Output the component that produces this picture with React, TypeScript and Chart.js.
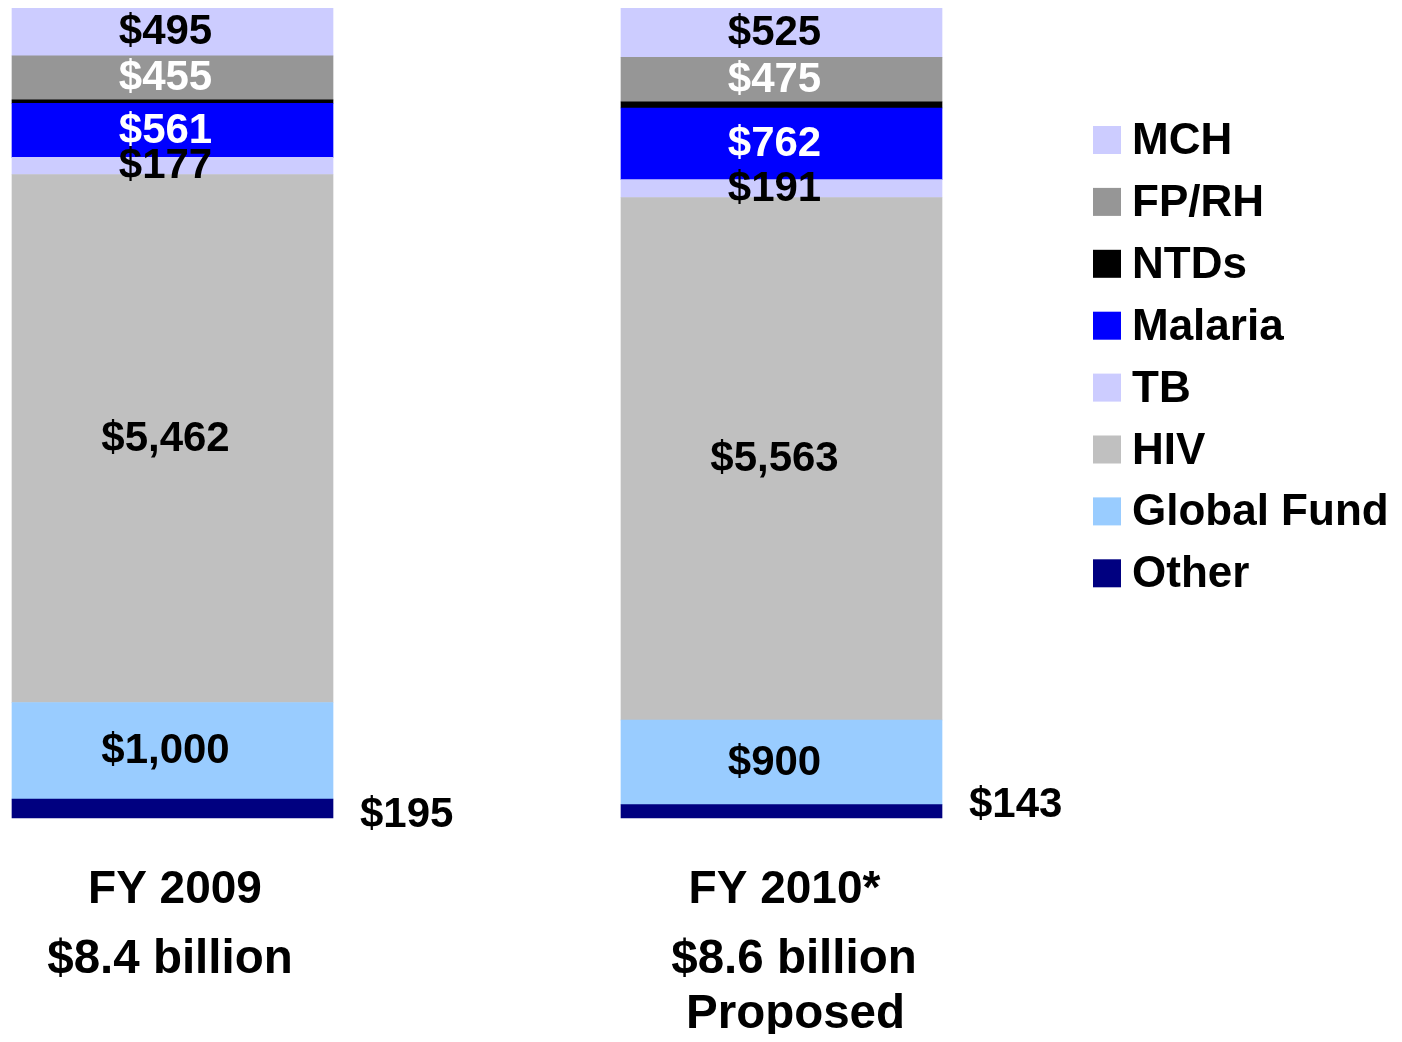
import React, { useEffect, useRef } from 'react';
import { Chart, registerables } from 'chart.js';

Chart.register(...registerables);

// ---- data ----
const categories = ['FY 2009', 'FY 2010*'];
const totalLabels = ['$8.4 billion', '$8.6 billion'];
const noteLabels = ['', 'Proposed'];

const otherValues = [195, 143];
const globalFundValues = [1000, 900];
const hivValues = [5462, 5563];
const tbValues = [177, 191];
const malariaValues = [561, 762];
const ntdValues = [35, 65];
const fprhValues = [455, 475];
const mchValues = [495, 525];

// stack order bottom -> top
const seriesNames = ['Other', 'Global Fund', 'HIV', 'TB', 'Malaria', 'NTDs', 'FP/RH', 'MCH'];
const seriesValues = [otherValues, globalFundValues, hivValues, tbValues, malariaValues, ntdValues, fprhValues, mchValues];
const seriesColors = ['#000080', '#99CCFF', '#C0C0C0', '#CCCCFF', '#0000FF', '#000000', '#969696', '#CCCCFF'];
const labelColors = ['#000000', '#000000', '#000000', '#000000', '#FFFFFF', null, '#FFFFFF', '#000000'];

const FONT = '"Liberation Sans", Arial, Helvetica, sans-serif';

const totals = categories.map((_, i) => seriesValues.reduce((s, arr) => s + arr[i], 0));

const fmt = (v: number) => '$' + v.toLocaleString('en-US');

const labelPlugin = {
  id: 'segLabels',
  afterDatasetsDraw(chart: any) {
    const ctx = chart.ctx;
    ctx.save();
    ctx.font = `bold 42px ${FONT}`;
    ctx.textBaseline = 'alphabetic';
    chart.data.datasets.forEach((ds: any, di: number) => {
      const color = labelColors[di];
      if (!color) return;
      const meta = chart.getDatasetMeta(di);
      meta.data.forEach((el: any, i: number) => {
        const text = fmt(seriesValues[di][i]);
        const mid = (el.y + el.base) / 2;
        ctx.fillStyle = color;
        if (di === 0) {
          // outside label to the right of the bar
          const outsideDy = [18.3, 5.9][i];
          ctx.textAlign = 'left';
          ctx.fillText(text, el.x + el.width / 2 + 27, mid + outsideDy);
        } else {
          ctx.textAlign = 'center';
          ctx.fillText(text, el.x - 7, mid + 12.5);
        }
      });
    });
    ctx.restore();
  },
  afterDraw(chart: any) {
    const ctx = chart.ctx;
    const xs = chart.scales.x;
    ctx.save();
    ctx.fillStyle = '#000000';
    ctx.textAlign = 'center';
    ctx.textBaseline = 'alphabetic';
    const catDx = [2.5, 3];
    const totDx = [-2.5, 12.5];
    const noteDx = [0, 14];
    categories.forEach((c, i) => {
      const cx = xs.getPixelForValue(i);
      ctx.font = `bold 46px ${FONT}`;
      ctx.fillText(c, cx + catDx[i], 895);
      ctx.font = `bold 47.5px ${FONT}`;
      ctx.fillText(totalLabels[i], cx + totDx[i], 965);
      if (noteLabels[i]) ctx.fillText(noteLabels[i], cx + noteDx[i], 1020);
    });

    // legend (top -> bottom = reverse stack order)
    ctx.font = `bold 44px ${FONT}`;
    ctx.textAlign = 'left';
    const order = seriesNames.map((_, i) => seriesNames.length - 1 - i);
    order.forEach((si, row) => {
      const top = 118 + row * 61.9;
      ctx.fillStyle = seriesColors[si];
      ctx.fillRect(1085, top, 28, 28);
      ctx.fillStyle = '#000000';
      ctx.fillText(seriesNames[si], 1124, top + 28);
    });
    ctx.restore();
  },
};

export default function App() {
  const ref = useRef<HTMLCanvasElement | null>(null);
  useEffect(() => {
    if (!ref.current) return;
    const chart = new Chart(ref.current, {
      type: 'bar',
      data: {
        labels: categories,
        datasets: seriesNames.map((name, si) => ({
          label: name,
          data: seriesValues[si].map((v, i) => (v / totals[i]) * 100),
          backgroundColor: seriesColors[si],
          borderWidth: 0,
          barThickness: 321,
          clip: false as any,
        })),
      },
      options: {
        animation: false,
        responsive: false,
        layout: { padding: { left: 164.5, right: 612.5, top: 0, bottom: 216 } },
        plugins: { legend: { display: false }, tooltip: { enabled: false } },
        scales: {
          x: { stacked: true, display: false, offset: false, grid: { display: false } },
          y: { stacked: true, display: false, min: 0, max: 100 },
        },
      },
      plugins: [labelPlugin],
    });
    return () => chart.destroy();
  }, []);
  return (
    <div style={{ width: 1386, height: 1026 }}>
      <canvas ref={ref} width={1386} height={1026} style={{ width: 1386, height: 1026, display: 'block' }} />
    </div>
  );
}
